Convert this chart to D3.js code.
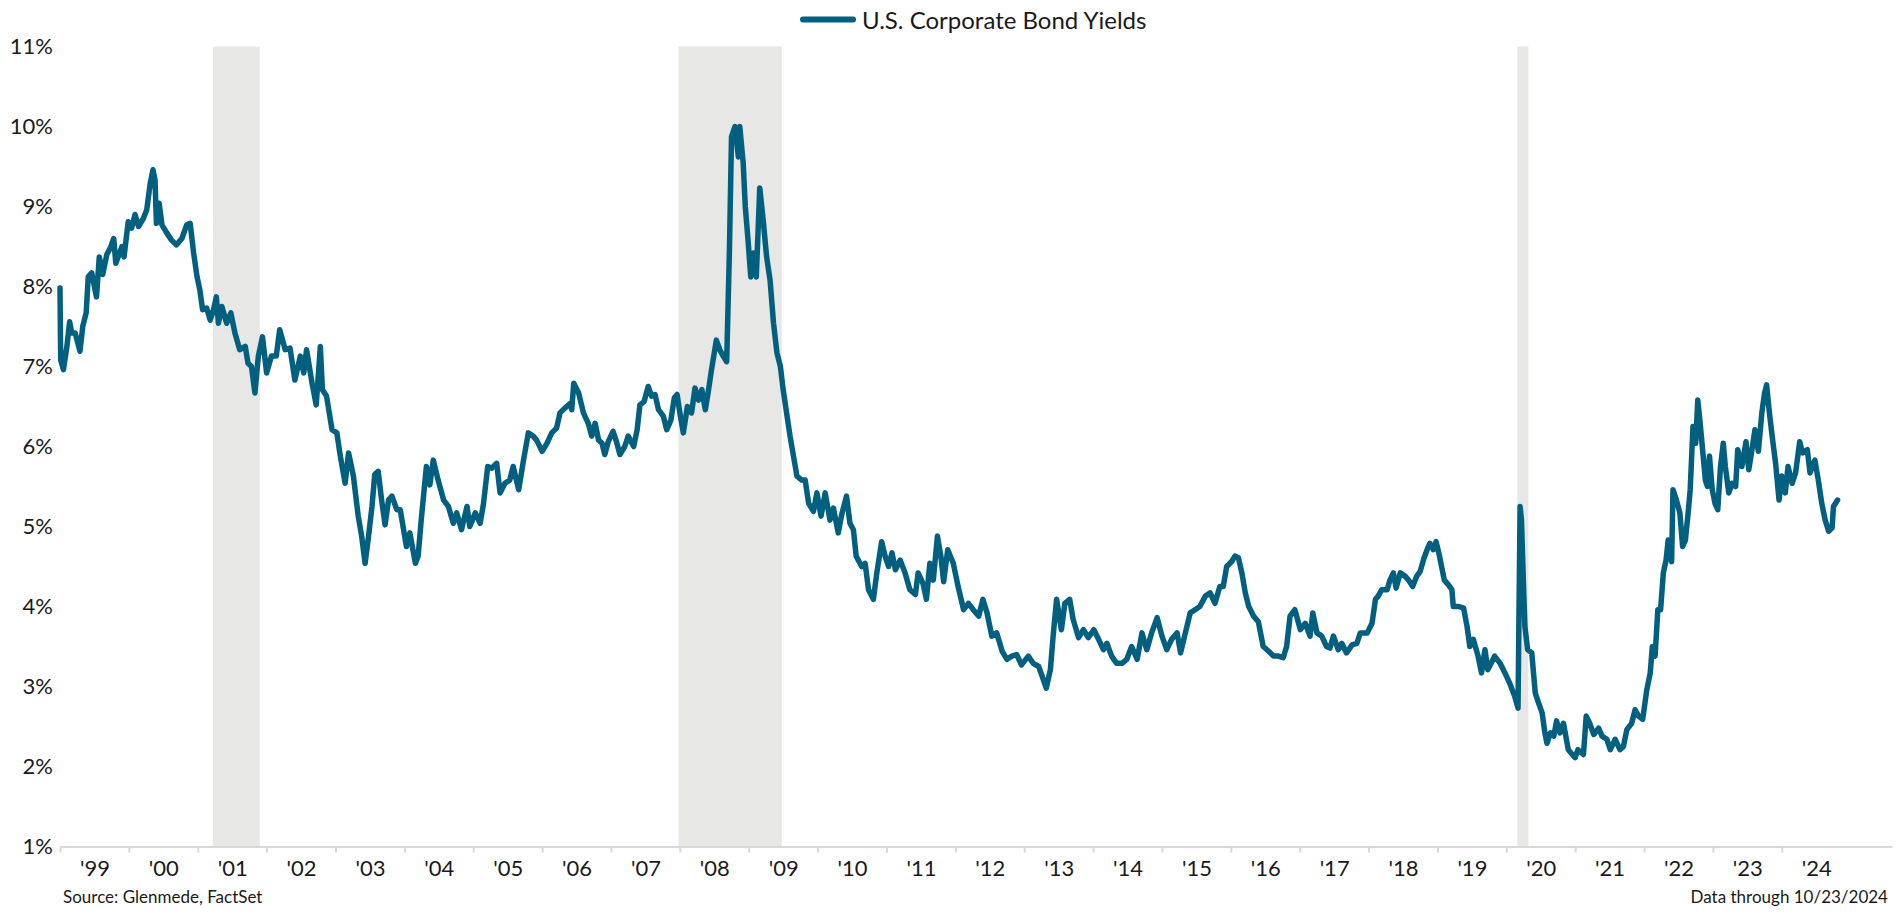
<!DOCTYPE html>
<html>
<head>
<meta charset="utf-8">
<script src="https://cdn.jsdelivr.net/npm/d3@7"></script>
<style>
  body { margin: 0; background: #ffffff; }
  svg { display: block; }
  text { font-family: Lato, "Open Sans", sans-serif; fill: #1a1a1a; }
</style>
</head>
<body>
<svg id="chart" width="1900" height="916"></svg>
<script>
// ---------- DATA ----------
const seriesName = "U.S. Corporate Bond Yields";
const sourceNote = "Source: Glenmede, FactSet";
const dataNote = "Data through 10/23/2024";

// observation dates as decimal years
const dates = [
1999.00,1999.01,1999.05,1999.10,1999.14,1999.17,1999.22,1999.29,1999.33,1999.38,1999.41,1999.46,1999.53,1999.57,1999.62,1999.68,1999.74,1999.78,1999.81,1999.90,1999.93,1999.99,
2000.04,2000.09,2000.14,2000.21,2000.26,2000.31,2000.35,2000.38,2000.40,2000.44,2000.48,2000.55,2000.62,2000.69,2000.77,2000.84,2000.89,2000.94,2000.99,
2001.03,2001.07,2001.13,2001.18,2001.23,2001.27,2001.30,2001.35,2001.42,2001.48,2001.54,2001.61,2001.69,2001.73,2001.78,2001.83,2001.88,2001.94,
2002.00,2002.07,2002.14,2002.19,2002.27,2002.34,2002.41,2002.49,2002.54,2002.58,2002.66,2002.72,2002.78,2002.81,2002.87,2002.95,
2003.02,2003.07,2003.14,2003.19,2003.26,2003.33,2003.38,2003.43,2003.48,2003.53,2003.57,2003.62,2003.67,2003.72,2003.77,2003.82,2003.89,2003.94,
2004.03,2004.08,2004.16,2004.20,2004.25,2004.32,2004.37,2004.42,2004.49,2004.57,2004.64,2004.71,2004.76,2004.83,2004.91,2004.95,
2005.03,2005.10,2005.15,2005.21,2005.27,2005.34,2005.39,2005.46,2005.53,2005.58,2005.66,2005.73,2005.80,2005.87,2005.92,
2006.00,2006.07,2006.14,2006.21,2006.26,2006.33,2006.41,2006.43,2006.46,2006.53,2006.60,2006.67,2006.72,2006.77,2006.82,2006.87,2006.91,2006.96,
2007.03,2007.08,2007.13,2007.20,2007.25,2007.33,2007.38,2007.42,2007.48,2007.54,2007.59,2007.64,2007.69,2007.76,2007.81,2007.87,2007.92,2007.96,
2008.00,2008.05,2008.11,2008.17,2008.22,2008.27,2008.32,2008.37,2008.41,2008.46,2008.53,2008.58,2008.63,2008.68,2008.72,2008.75,2008.80,2008.85,2008.87,2008.92,2008.95,2008.99,
2009.03,2009.07,2009.11,2009.16,2009.21,2009.26,2009.31,2009.36,2009.41,2009.46,2009.50,2009.55,2009.60,2009.65,2009.70,2009.77,2009.82,2009.87,2009.94,2009.99,
2010.05,2010.11,2010.18,2010.23,2010.30,2010.35,2010.42,2010.47,2010.52,2010.56,2010.64,2010.69,2010.74,2010.81,2010.86,2010.93,2010.98,
2011.03,2011.08,2011.13,2011.20,2011.27,2011.34,2011.42,2011.46,2011.53,2011.58,2011.63,2011.68,2011.74,2011.79,2011.83,2011.89,2011.97,
2012.04,2012.12,2012.19,2012.26,2012.34,2012.40,2012.46,2012.53,2012.60,2012.68,2012.75,2012.82,2012.89,2012.96,
2013.06,2013.13,2013.21,2013.26,2013.32,2013.38,2013.42,2013.47,2013.54,2013.59,2013.66,2013.71,2013.79,2013.86,2013.93,
2014.01,2014.08,2014.15,2014.20,2014.27,2014.34,2014.42,2014.49,2014.56,2014.64,2014.71,2014.78,2014.85,2014.93,
2015.00,2015.07,2015.14,2015.22,2015.27,2015.34,2015.41,2015.48,2015.55,2015.63,2015.70,2015.77,2015.84,2015.89,2015.94,
2016.01,2016.06,2016.11,2016.16,2016.21,2016.26,2016.33,2016.40,2016.47,2016.55,2016.62,2016.69,2016.76,2016.81,2016.86,2016.93,
2017.01,2017.08,2017.15,2017.19,2017.25,2017.32,2017.39,2017.44,2017.49,2017.56,2017.61,2017.68,2017.76,2017.83,2017.88,2017.98,
2018.05,2018.10,2018.14,2018.19,2018.27,2018.31,2018.36,2018.40,2018.46,2018.53,2018.58,2018.64,2018.70,2018.75,2018.80,2018.85,2018.89,2018.94,2018.98,
2019.02,2019.06,2019.10,2019.16,2019.21,2019.23,2019.31,2019.38,2019.43,2019.47,2019.52,2019.59,2019.64,2019.69,2019.73,2019.78,2019.83,2019.91,2019.98,
2020.05,2020.12,2020.17,2020.20,2020.22,2020.25,2020.27,2020.31,2020.37,2020.42,2020.47,2020.52,2020.56,2020.59,2020.64,2020.69,2020.73,2020.78,2020.83,2020.90,
2021.00,2021.04,2021.12,2021.16,2021.21,2021.27,2021.34,2021.39,2021.46,2021.51,2021.58,2021.65,2021.70,2021.75,2021.82,2021.87,2021.92,2021.98,
2022.04,2022.09,2022.12,2022.16,2022.20,2022.24,2022.28,2022.32,2022.35,2022.40,2022.42,2022.47,2022.52,2022.56,2022.60,2022.64,2022.67,2022.71,2022.75,2022.78,2022.81,2022.85,2022.89,2022.92,2022.95,2022.99,
2023.03,2023.07,2023.11,2023.15,2023.18,2023.23,2023.28,2023.33,2023.36,2023.42,2023.48,2023.52,2023.56,2023.61,2023.66,2023.71,2023.75,2023.78,2023.82,2023.86,2023.91,2023.96,
2024.00,2024.05,2024.09,2024.15,2024.20,2024.26,2024.30,2024.37,2024.41,2024.48,2024.53,2024.58,2024.63,2024.68,2024.73,2024.75,2024.81
];

// yield, percent
const yields = [
7.98,7.08,6.96,7.25,7.56,7.42,7.42,7.19,7.50,7.67,8.12,8.17,7.87,8.37,8.15,8.40,8.50,8.60,8.29,8.50,8.37,8.81,
8.73,8.90,8.75,8.85,8.96,9.29,9.46,9.33,8.79,9.04,8.77,8.67,8.58,8.52,8.60,8.77,8.79,8.42,8.12,
7.96,7.71,7.73,7.58,7.71,7.87,7.54,7.75,7.54,7.67,7.42,7.21,7.25,7.04,7.00,6.67,7.13,7.37,
6.92,7.13,7.13,7.46,7.21,7.23,6.83,7.13,6.92,7.21,6.79,6.52,7.25,6.71,6.63,6.21,
6.17,5.88,5.54,5.92,5.63,5.13,4.88,4.54,4.88,5.25,5.65,5.69,5.33,5.02,5.33,5.38,5.21,5.21,
4.75,4.92,4.54,4.63,5.13,5.75,5.52,5.83,5.58,5.33,5.25,5.04,5.17,4.96,5.25,5.00,
5.17,5.04,5.29,5.75,5.73,5.79,5.42,5.54,5.58,5.75,5.46,5.83,6.17,6.13,6.08,
5.94,6.04,6.17,6.23,6.42,6.48,6.54,6.46,6.79,6.67,6.42,6.29,6.13,6.29,6.08,6.04,5.90,6.06,
6.19,6.06,5.90,6.00,6.13,6.00,6.21,6.52,6.56,6.75,6.63,6.65,6.46,6.38,6.21,6.33,6.61,6.65,
6.42,6.17,6.50,6.42,6.73,6.58,6.71,6.46,6.67,6.96,7.33,7.21,7.13,7.06,8.46,9.87,10.00,9.62,10.00,9.54,9.00,8.58,
8.12,8.42,8.12,9.23,8.83,8.37,8.08,7.54,7.17,7.00,6.71,6.42,6.13,5.88,5.63,5.58,5.58,5.29,5.19,5.42,
5.13,5.42,5.08,5.23,4.92,5.15,5.38,5.04,4.96,4.63,4.50,4.54,4.21,4.09,4.42,4.81,4.63,
4.50,4.67,4.46,4.58,4.42,4.21,4.15,4.42,4.29,4.09,4.54,4.33,4.88,4.63,4.31,4.71,4.54,
4.25,3.96,4.04,3.96,3.88,4.09,3.92,3.63,3.67,3.44,3.34,3.38,3.40,3.27,
3.38,3.29,3.25,3.13,2.98,3.21,3.63,4.09,3.71,4.04,4.09,3.84,3.61,3.71,3.61,
3.71,3.59,3.46,3.54,3.38,3.29,3.29,3.34,3.50,3.34,3.67,3.46,3.67,3.86,
3.63,3.46,3.59,3.67,3.42,3.67,3.92,3.96,4.00,4.13,4.17,4.04,4.25,4.25,4.50,
4.56,4.63,4.61,4.42,4.17,4.00,3.88,3.81,3.50,3.44,3.38,3.38,3.36,3.50,3.88,3.96,
3.71,3.79,3.63,3.92,3.67,3.63,3.50,3.48,3.63,3.46,3.54,3.42,3.52,3.54,3.67,3.67,
3.79,4.09,4.13,4.21,4.21,4.33,4.42,4.23,4.42,4.38,4.33,4.25,4.38,4.44,4.59,4.71,4.79,4.71,4.81,
4.67,4.50,4.33,4.27,4.21,4.00,4.00,3.98,3.75,3.50,3.59,3.38,3.17,3.46,3.21,3.29,3.38,3.29,3.17,
3.04,2.88,2.73,5.25,5.08,4.25,3.75,3.46,3.42,2.92,2.79,2.67,2.42,2.29,2.42,2.38,2.57,2.42,2.54,2.21,
2.11,2.21,2.15,2.63,2.54,2.40,2.48,2.38,2.34,2.21,2.34,2.21,2.25,2.46,2.54,2.71,2.63,2.59,
2.96,3.17,3.50,3.38,3.96,3.96,4.42,4.58,4.83,4.56,5.46,5.33,5.17,4.75,4.83,5.17,5.46,6.25,6.04,6.58,6.33,5.96,5.58,5.50,5.88,5.46,
5.29,5.21,5.75,6.04,5.75,5.42,5.54,5.50,5.96,5.75,6.06,5.71,5.92,6.21,5.94,6.42,6.67,6.77,6.42,6.13,5.79,5.33,
5.63,5.42,5.75,5.54,5.67,6.06,5.92,5.96,5.67,5.83,5.58,5.29,5.08,4.94,4.98,5.25,5.33
];

// recession shading (decimal years)
const recessionStart = [2001.22, 2007.98, 2020.16];
const recessionEnd   = [2001.90, 2009.48, 2020.32];

// axis ticks
const yTicks = [1, 2, 3, 4, 5, 6, 7, 8, 9, 10, 11];
const xTickYears = [1999,2000,2001,2002,2003,2004,2005,2006,2007,2008,2009,2010,2011,2012,2013,2014,2015,2016,2017,2018,2019,2020,2021,2022,2023,2024];
const xTickLabels = ["'99","'00","'01","'02","'03","'04","'05","'06","'07","'08","'09","'10","'11","'12","'13","'14","'15","'16","'17","'18","'19","'20","'21","'22","'23","'24"];

// ---------- CHART ----------
const svg = d3.select("#chart");
const plotLeft = 60, plotRight = 1892, plotTop = 46.5, plotBottom = 846.5;

const x = d3.scaleLinear().domain([1999, 2025.6]).range([plotLeft, plotRight]);
const y = d3.scaleLinear().domain([1, 11]).range([plotBottom, plotTop]);

// recession bands
svg.append("g").selectAll("rect")
  .data(recessionStart.map((s, i) => ({ s, e: recessionEnd[i] })))
  .join("rect")
  .attr("x", d => x(d.s))
  .attr("width", d => x(d.e) - x(d.s))
  .attr("y", y(11))
  .attr("height", y(1) - y(11))
  .attr("fill", "#E7E7E6");

// y axis labels
const yAxis = d3.axisLeft(y).tickValues(yTicks).tickSize(0).tickPadding(7)
  .tickFormat(d => d + "%");
const gy = svg.append("g").attr("transform", `translate(${plotLeft},0)`).call(yAxis);
gy.select(".domain").remove();
gy.selectAll("text").attr("font-size", 22).style("font-family", "Lato").attr("fill", "#1a1a1a");

// x axis (line + tick marks at year boundaries)
const xAxisTicks = d3.axisBottom(x).tickValues(xTickYears).tickSize(6).tickSizeOuter(0).tickFormat("");
const gx = svg.append("g").attr("transform", `translate(0,${plotBottom})`).call(xAxisTicks);
gx.select(".domain").attr("stroke", "#D9D9D9").attr("stroke-width", 2);
gx.selectAll(".tick line").attr("stroke", "#D9D9D9").attr("stroke-width", 2);

// x labels centred within each year
const xAxisLabels = d3.axisBottom(x).tickValues(xTickYears.map(v => v + 0.5)).tickSize(0).tickPadding(14)
  .tickFormat((d, i) => xTickLabels[i]);
const gxl = svg.append("g").attr("transform", `translate(0,${plotBottom})`).call(xAxisLabels);
gxl.select(".domain").remove();
gxl.selectAll("text").attr("font-size", 22).style("font-family", "Lato").attr("fill", "#1a1a1a");

// line
const pts = dates.map((t, i) => ({ t, v: yields[i] }));
const line = d3.line().x(d => x(d.t)).y(d => y(d.v));
svg.append("path")
  .datum(pts)
  .attr("d", line)
  .attr("fill", "none")
  .attr("stroke", "#01607F")
  .attr("stroke-width", 5.5)
  .attr("stroke-linejoin", "round")
  .attr("stroke-linecap", "round");

// legend
const lg = svg.append("g");
lg.append("line").attr("x1", 803).attr("x2", 853).attr("y1", 19.5).attr("y2", 19.5)
  .attr("stroke", "#01607F").attr("stroke-width", 6).attr("stroke-linecap", "round");
lg.append("text").attr("x", 862).attr("y", 19.5).attr("dominant-baseline", "central")
  .attr("font-size", 24).text(seriesName);

// footnotes
svg.append("text").attr("x", 63).attr("y", 903).attr("font-size", 17).text(sourceNote);
svg.append("text").attr("x", 1888).attr("y", 903).attr("font-size", 17)
  .attr("text-anchor", "end").text(dataNote);
</script>
</body>
</html>
